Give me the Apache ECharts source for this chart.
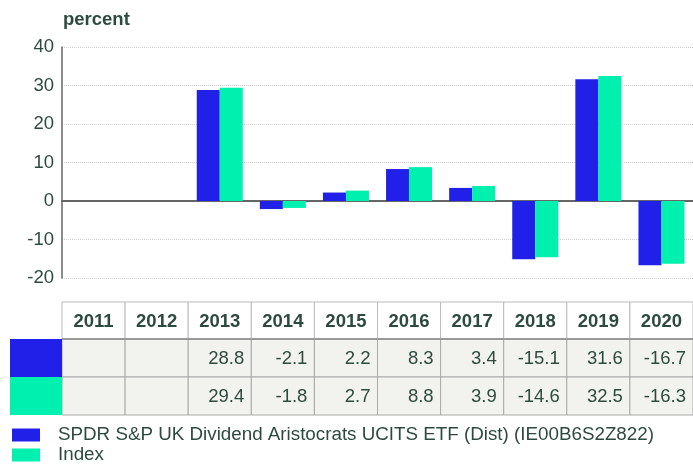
<!DOCTYPE html>
<html>
<head>
<meta charset="utf-8">
<script src="https://cdn.jsdelivr.net/npm/echarts@6/dist/echarts.min.js"></script>
<style>
  html, body { margin: 0; padding: 0; background: #fff; }
  #chart { width: 693px; height: 466px; }
</style>
</head>
<body>
<div id="chart"></div>
<script>
const years = ["2011", "2012", "2013", "2014", "2015", "2016", "2017", "2018", "2019", "2020"]
const fundValues = [null, null, 28.8, -2.1, 2.2, 8.3, 3.4, -15.1, 31.6, -16.7]
const indexValues = [null, null, 29.4, -1.8, 2.7, 8.8, 3.9, -14.6, 32.5, -16.3]
const fundName = "SPDR S&P UK Dividend Aristocrats UCITS ETF (Dist) (IE00B6S2Z822)"
const indexName = "Index"

const FONT = "Liberation Sans, Arial, sans-serif"
const FS = 18.5
const TEXT = "#2d4a3e"
const BLUE = "#2020e8"
const GREEN = "#00f0b0"

const chart = echarts.init(document.getElementById("chart"))

const legendItem = (name, top) => ({
  left: 12,
  top,
  padding: 0,
  itemWidth: 28,
  itemHeight: 13,
  icon: "rect",
  textStyle: { fontSize: 18.8, color: TEXT, lineHeight: 20, padding: [0, 0, 0, 13] },
  data: [name]
})

chart.setOption({
  animation: false,
  textStyle: { fontFamily: FONT },
  title: {
    text: "percent",
    left: 58,
    top: 5,
    textStyle: { fontSize: FS, fontWeight: "bold", color: TEXT, fontFamily: FONT }
  },
  legend: [legendItem(fundName, 425), legendItem(indexName, 445)],
  grid: { left: 62, right: 0, top: 47, bottom: 188 },
  xAxis: {
    type: "category",
    data: years,
    axisLine: { onZero: true, lineStyle: { color: "#666", width: 2 } },
    axisTick: { show: false },
    axisLabel: { show: false }
  },
  yAxis: {
    type: "value",
    min: -20,
    max: 40,
    interval: 10,
    axisLine: { show: true, lineStyle: { color: "#666", width: 1.5 } },
    axisTick: { show: false },
    axisLabel: { fontSize: FS, color: TEXT, margin: 8 },
    splitLine: { lineStyle: { color: "#ccc", type: "dotted" } }
  },
  series: [
    { name: fundName, type: "bar", data: fundValues, barWidth: 23, barGap: 0, itemStyle: { color: BLUE } },
    { name: indexName, type: "bar", data: indexValues, barWidth: 23, itemStyle: { color: GREEN } }
  ]
})

// table under the chart, columns aligned to the category axis
const buildTable = () => {
  const rowTop = [302, 339, 377]
  const rowH = [37, 38, 38]
  const colW = chart.convertToPixel({ xAxisIndex: 0 }, years[1]) - chart.convertToPixel({ xAxisIndex: 0 }, years[0])
  const els = []
  const rows = [fundValues, indexValues]
  const swatches = [BLUE, GREEN]
  years.forEach((y, i) => {
    const cx = chart.convertToPixel({ xAxisIndex: 0 }, y)
    const x0 = cx - colW / 2
    els.push({
      type: "rect", shape: { x: x0, y: rowTop[0], width: colW, height: rowH[0] },
      style: { fill: "#fff", stroke: "#bbb", lineWidth: 1 }
    })
    els.push({
      type: "text", x: cx, y: rowTop[0] + rowH[0] / 2 + 1,
      style: { text: y, fontSize: FS, fontWeight: "bold", fill: TEXT, align: "center", verticalAlign: "middle", fontFamily: FONT }
    })
    rows.forEach((vals, r) => {
      els.push({
        type: "rect", shape: { x: x0, y: rowTop[r + 1], width: colW, height: rowH[r + 1] },
        style: { fill: "#f2f2ee", stroke: "#aaa", lineWidth: 1 }
      })
      if (vals[i] !== null) {
        els.push({
          type: "text", x: x0 + colW - 7, y: rowTop[r + 1] + rowH[r + 1] / 2 + 1,
          style: { text: vals[i].toFixed(1), fontSize: FS, fill: TEXT, align: "right", verticalAlign: "middle", fontFamily: FONT }
        })
      }
    })
  })
  swatches.forEach((c, r) => {
    els.push({
      type: "rect", shape: { x: 10, y: rowTop[r + 1], width: 52, height: rowH[r + 1] },
      style: { fill: c }
    })
  })
  els.push({
    type: "line", shape: { x1: 62, y1: rowTop[1], x2: 693, y2: rowTop[1] },
    style: { stroke: "#999", lineWidth: 2 }
  })
  chart.setOption({ graphic: els })
}

buildTable()
window.addEventListener("resize", () => chart.resize())
</script>
</body>
</html>
